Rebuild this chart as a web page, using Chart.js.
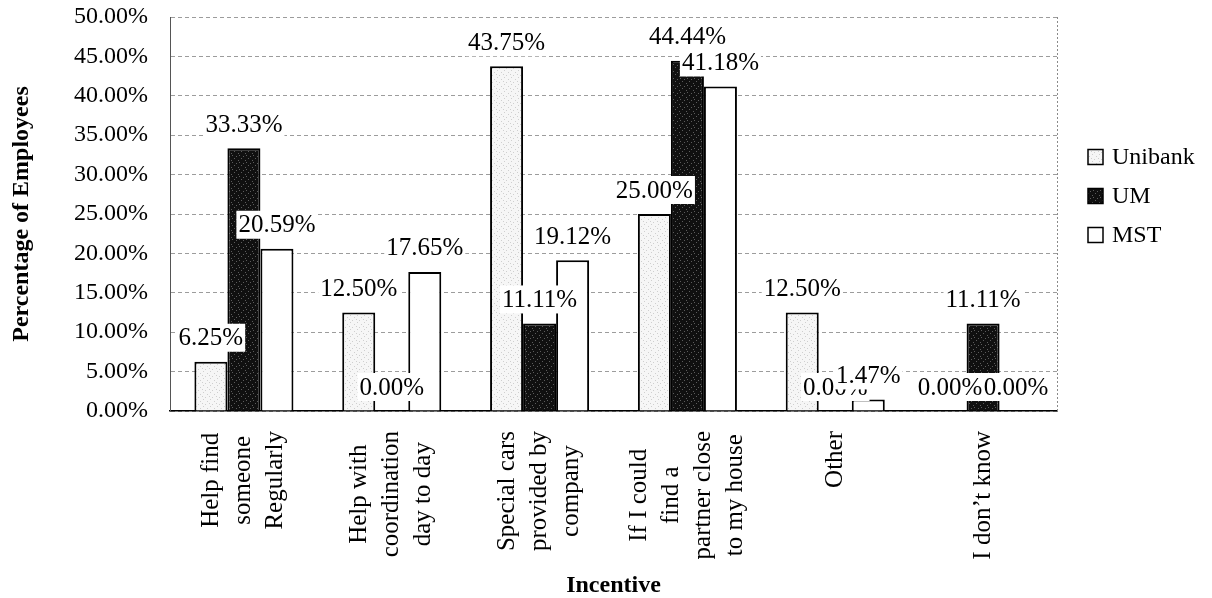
<!DOCTYPE html>
<html>
<head>
<meta charset="utf-8">
<script src="https://cdn.jsdelivr.net/npm/chart.js@4.4.1/dist/chart.umd.min.js"></script>
<style>
  html, body { margin: 0; padding: 0; background: #fff; }
  #wrap { width: 1212px; height: 598px; }
</style>
</head>
<body>
<div id="wrap"><canvas id="c" width="1212" height="598"></canvas></div>
<script>
// Incentive categories (multi-line labels)
const categories = [
  ['Help find', 'someone', 'Regularly'],
  ['Help with', 'coordination', 'day to day'],
  ['Special cars', 'provided by', 'company'],
  ['If I could', 'find a', 'partner close', 'to my house'],
  ['Other'],
  ['I don\u2019t know']
];
const seriesNames = ['Unibank', 'UM', 'MST'];
// Percentage of employees per incentive
const unibankValues = [6.25, 12.50, 43.75, 25.00, 12.50, 0.00];
const umValues      = [33.33, 0.00, 11.11, 44.44, 0.00, 11.11];
const mstValues     = [20.59, 17.65, 19.12, 41.18, 1.47, 0.00];
// Value axis range
const yMin = 0, yMax = 50, yStep = 5;

const SERIF = '"Liberation Serif", "Times New Roman", Times, serif';
const canvas = document.getElementById('c');
const mainCtx = canvas.getContext('2d');

// speckled fills, like halftone print
function stipple(base, dot, spots) {
  const t = document.createElement('canvas');
  t.width = 7; t.height = 7;
  const g = t.getContext('2d');
  g.fillStyle = base; g.fillRect(0, 0, 7, 7);
  g.fillStyle = dot;
  spots.forEach(([x, y]) => g.fillRect(x, y, 1, 1));
  return mainCtx.createPattern(t, 'repeat');
}
const lightFill = stipple('#f6f6f6', '#cfcfcf', [[0,0],[4,2],[2,5],[6,4]]);
const darkFill  = stipple('#101010', '#5c5c5c', [[1,1],[5,2],[3,4],[0,6]]);
const seriesFills = [lightFill, darkFill, '#ffffff'];
const seriesData = [unibankValues, umValues, mstValues];

// value labels on white boxes above each bar
const valueLabels = {
  id: 'valueLabels',
  afterDatasetsDraw(chart) {
    const ctx = chart.ctx;
    ctx.save();
    ctx.font = '25px ' + SERIF;
    ctx.textAlign = 'center';
    ctx.textBaseline = 'middle';
    chart.data.datasets.forEach((ds, di) => {
      const meta = chart.getDatasetMeta(di);
      meta.data.forEach((bar, i) => {
        const txt = ds.data[i].toFixed(2) + '%';
        const w = ctx.measureText(txt).width;
        const cy = bar.y - 24;
        ctx.fillStyle = '#ffffff';
        ctx.fillRect(bar.x - w / 2 - 2, cy - 14, w + 4, 28);
        ctx.fillStyle = '#000000';
        ctx.fillText(txt, bar.x, cy + 1);
      });
    });
    ctx.restore();
  }
};

// vertical category labels, lines centred on each other
const categoryLabels = {
  id: 'categoryLabels',
  afterDraw(chart) {
    const sx = chart.scales.x;
    const ctx = chart.ctx;
    ctx.save();
    ctx.font = '25px ' + SERIF;
    ctx.fillStyle = '#000';
    ctx.textAlign = 'center';
    ctx.textBaseline = 'middle';
    const lineGap = 32;
    const topY = sx.top + 20;
    chart.data.labels.forEach((lines, i) => {
      const x = sx.getPixelForTick(i);
      const maxW = Math.max(...lines.map(l => ctx.measureText(l).width));
      const cy = topY + maxW / 2;
      lines.forEach((line, j) => {
        const lx = x + (j - (lines.length - 1) / 2) * lineGap;
        ctx.save();
        ctx.translate(lx, cy);
        ctx.rotate(-Math.PI / 2);
        ctx.fillText(line, 0, 0);
        ctx.restore();
      });
    });
    ctx.restore();
  }
};

// dotted frame on the right side of the plot area
const plotFrame = {
  id: 'plotFrame',
  beforeDatasetsDraw(chart) {
    const {ctx, chartArea: a} = chart;
    ctx.save();
    ctx.strokeStyle = '#8a8a8a';
    ctx.lineWidth = 1;
    ctx.setLineDash([2, 2]);
    ctx.beginPath();
    ctx.moveTo(a.right + 0.5, a.top);
    ctx.lineTo(a.right + 0.5, a.bottom);
    ctx.stroke();
    ctx.restore();
  }
};

// legend to the right of the plot
const sideLegend = {
  id: 'sideLegend',
  afterDraw(chart) {
    const {ctx, chartArea: a} = chart;
    ctx.save();
    ctx.font = '24px ' + SERIF;
    ctx.textBaseline = 'middle';
    ctx.textAlign = 'left';
    const boxX = a.right + 31, box = 15, step = 39;
    const firstY = a.top + 140;
    chart.data.datasets.forEach((ds, i) => {
      const cy = firstY + i * step;
      ctx.fillStyle = ds.backgroundColor;
      ctx.fillRect(boxX, cy - box / 2, box, box);
      ctx.strokeStyle = '#000';
      ctx.lineWidth = 1.5;
      ctx.strokeRect(boxX, cy - box / 2, box, box);
      ctx.fillStyle = '#000';
      ctx.fillText(ds.label, boxX + box + 9, cy + 1);
    });
    ctx.restore();
  }
};

new Chart(canvas, {
  type: 'bar',
  data: {
    labels: categories,
    datasets: seriesNames.map((name, i) => ({
      label: name,
      data: seriesData[i],
      backgroundColor: seriesFills[i],
      borderColor: '#000000',
      borderWidth: 2,
      borderSkipped: 'bottom',
      categoryPercentage: 0.67,
      barPercentage: 1.0
    }))
  },
  options: {
    responsive: false,
    animation: false,
    devicePixelRatio: 1,
    layout: { padding: { top: 17, right: 155, bottom: 0, left: 0 } },
    plugins: {
      legend: { display: false },
      tooltip: { enabled: false }
    },
    scales: {
      x: {
        grid: { display: false, drawTicks: false },
        border: { display: true, color: '#000', width: 1.5 },
        ticks: { display: false },
        title: {
          display: true,
          text: 'Incentive',
          color: '#000',
          font: { family: SERIF, size: 24, weight: 'bold', lineHeight: 1 },
          padding: { top: 0, bottom: 0 }
        },
        afterFit(s) { s.height = 187; s.paddingLeft = 0; s.paddingRight = 0; }
      },
      y: {
        min: yMin,
        max: yMax,
        grid: { color: '#9c9c9c', lineWidth: 1, drawTicks: false },
        border: { display: true, color: '#555', width: 1, dash: [4, 3] },
        ticks: {
          stepSize: yStep,
          padding: 22,
          color: '#000',
          font: { family: SERIF, size: 24 },
          callback: v => Number(v).toFixed(2) + '%'
        },
        title: {
          display: true,
          text: 'Percentage of Employees',
          color: '#000',
          font: { family: SERIF, size: 24, weight: 'bold', lineHeight: 1 },
          padding: { top: 10, bottom: 0 }
        },
        afterFit(s) { s.width = 170; s.paddingTop = 0; s.paddingBottom = 0; }
      }
    }
  },
  plugins: [plotFrame, valueLabels, categoryLabels, sideLegend]
});
</script>
</body>
</html>
